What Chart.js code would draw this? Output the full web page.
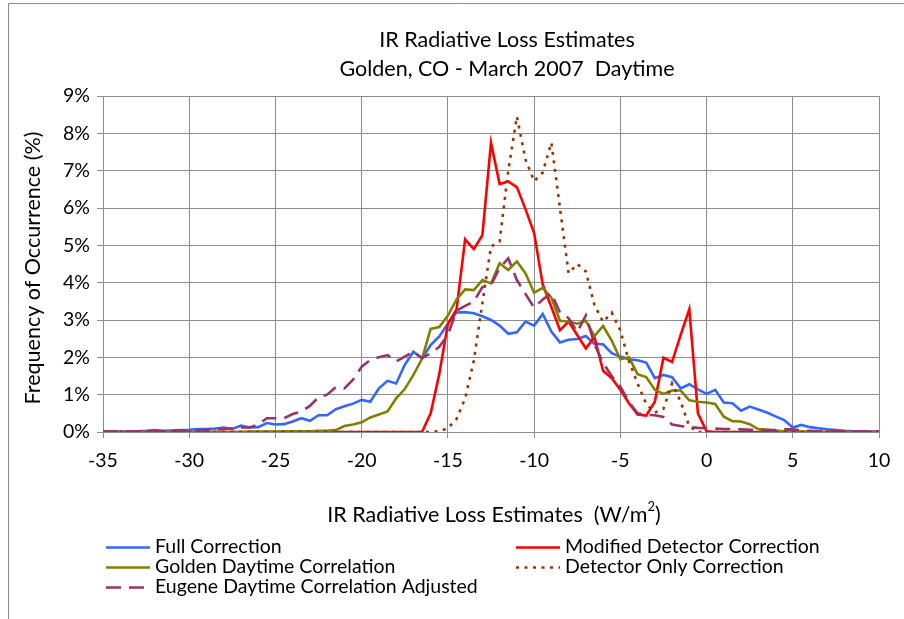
<!DOCTYPE html>
<html>
<head>
<meta charset="utf-8">
<script src="https://cdn.jsdelivr.net/npm/chart.js@4.4.1/dist/chart.umd.min.js"></script>
<style>
  html, body { margin: 0; padding: 0; background: #fff; }
</style>
</head>
<body>
<canvas id="chart" width="904" height="619"></canvas>
<script>
// x positions (W/m2), one bin every 0.5
const xValues = [
  -35, -34.5, -34, -33.5, -33, -32.5, -32, -31.5, -31, -30.5, -30,
  -29.5, -29, -28.5, -28, -27.5, -27, -26.5, -26, -25.5, -25,
  -24.5, -24, -23.5, -23, -22.5, -22, -21.5, -21, -20.5, -20,
  -19.5, -19, -18.5, -18, -17.5, -17, -16.5, -16, -15.5, -15,
  -14.5, -14, -13.5, -13, -12.5, -12, -11.5, -11, -10.5, -10,
  -9.5, -9, -8.5, -8, -7.5, -7, -6.5, -6, -5.5, -5,
  -4.5, -4, -3.5, -3, -2.5, -2, -1.5, -1, -0.5, 0,
  0.5, 1, 1.5, 2, 2.5, 3, 3.5, 4, 4.5, 5,
  5.5, 6, 6.5, 7, 7.5, 8, 8.5, 9, 9.5, 10
];

// frequency of occurrence (%)
const fullCorrection = [
  0.01, 0.01, 0.01, 0.02, 0.02, 0.03, 0.05, 0.03, 0.04, 0.05, 0.06,
  0.08, 0.08, 0.09, 0.12, 0.08, 0.17, 0.12, 0.13, 0.24, 0.2,
  0.21, 0.28, 0.37, 0.3, 0.45, 0.45, 0.61, 0.69, 0.76, 0.86,
  0.81, 1.17, 1.37, 1.3, 1.8, 2.15, 1.97, 2.33, 2.56, 2.9,
  3.2, 3.21, 3.18, 3.1, 3.0, 2.85, 2.63, 2.67, 2.96, 2.85,
  3.16, 2.69, 2.4, 2.47, 2.49, 2.57, 2.36, 2.35, 2.11, 2.02,
  1.95, 1.92, 1.86, 1.44, 1.53, 1.47, 1.17, 1.28, 1.14, 1.02,
  1.13, 0.79, 0.77, 0.57, 0.68, 0.6, 0.52, 0.42, 0.32, 0.12,
  0.19, 0.13, 0.1, 0.07, 0.05, 0.03, 0.02, 0.02, 0.01, 0.01
];

const modifiedDetector = [
  0, 0, 0, 0, 0, 0, 0, 0, 0, 0, 0,
  0, 0, 0, 0, 0, 0, 0, 0, 0, 0,
  0, 0, 0, 0, 0, 0, 0, 0, 0, 0,
  0, 0, 0, 0, 0, 0, 0, 0.5, 1.55, 2.9,
  3.28, 5.16, 4.9, 5.27, 7.75, 6.64, 6.71, 6.56, 5.97, 5.33,
  3.95, 3.35, 2.73, 2.96, 2.6, 2.24, 2.54, 1.64, 1.44, 1.13,
  0.77, 0.47, 0.44, 0.81, 1.99, 1.88, 2.6, 3.29, 0.5, 0.02,
  0, 0, 0, 0, 0, 0, 0, 0, 0, 0,
  0, 0, 0, 0, 0, 0, 0, 0, 0, 0
];

const goldenDaytime = [
  0, 0, 0, 0, 0, 0, 0, 0, 0, 0, 0,
  0, 0, 0, 0, 0, 0, 0.01, 0.01, 0.01, 0.01,
  0.02, 0.02, 0.02, 0.02, 0.03, 0.03, 0.05, 0.16, 0.2, 0.26,
  0.39, 0.47, 0.55, 0.9, 1.15, 1.53, 1.96, 2.76, 2.81, 3.12,
  3.55, 3.82, 3.8, 4.07, 3.98, 4.52, 4.34, 4.57, 4.25, 3.73,
  3.86, 3.6, 2.98, 2.96, 2.9, 2.98, 2.57, 2.84, 2.45, 1.95,
  2.0, 1.55, 1.47, 1.13, 1.02, 1.11, 1.11, 0.85, 0.81, 0.79,
  0.75, 0.41, 0.29, 0.28, 0.21, 0.08, 0.06, 0.04, 0.02, 0.02,
  0.01, 0.01, 0, 0, 0, 0, 0, 0, 0, 0
];

const detectorOnly = [
  0, 0, 0, 0, 0, 0, 0, 0, 0, 0, 0,
  0, 0, 0, 0, 0, 0, 0, 0, 0, 0,
  0, 0, 0, 0, 0, 0, 0, 0, 0, 0,
  0, 0, 0, 0, 0, 0, 0, 0, 0.02, 0.1,
  0.35, 0.9, 1.9, 3.45, 4.97, 5.1, 7.0, 8.45, 7.3, 6.72,
  6.95, 7.75, 6.0, 4.25, 4.5, 4.3, 3.4, 2.95, 3.2, 2.72,
  1.9, 1.3, 0.75, 0.52, 0.62, 1.3, 0.81, 0.15, 0, 0,
  0, 0, 0, 0, 0, 0, 0, 0, 0, 0,
  0, 0, 0, 0, 0, 0, 0, 0, 0, 0
];

const eugeneAdjusted = [
  0.01, 0.01, 0.01, 0.01, 0.02, 0.02, 0.02, 0.02, 0.03, 0.03, 0.03,
  0.04, 0.05, 0.06, 0.08, 0.1, 0.12, 0.12, 0.2, 0.37, 0.37,
  0.37, 0.48, 0.55, 0.7, 0.93, 1.0, 1.2, 1.17, 1.4, 1.75,
  1.93, 2.0, 2.06, 1.89, 2.02, 2.15, 1.98, 2.11, 2.28, 2.6,
  3.25, 3.38, 3.49, 3.88, 3.93, 4.4, 4.65, 4.07, 3.7, 3.33,
  3.55, 3.72, 3.2, 3.05, 2.68, 3.12, 2.35, 1.85, 1.5, 1.22,
  0.8, 0.5, 0.46, 0.45, 0.4, 0.2, 0.16, 0.13, 0.11, 0.1,
  0.09, 0.08, 0.08, 0.07, 0.06, 0.06, 0.05, 0.05, 0.07, 0.07,
  0.04, 0.03, 0.02, 0.02, 0.02, 0.02, 0.02, 0.02, 0.02, 0.02
];

const seriesNames = [
  "Full Correction",
  "Modified Detector Correction",
  "Golden Daytime Correlation",
  "Detector Only Correction",
  "Eugene Daytime Correlation Adjusted"
];
const titleLines = ["IR Radiative Loss Estimates", "Golden, CO - March 2007  Daytime"];
const xTitle = "IR Radiative Loss Estimates  (W/m";
const yTitle = "Frequency of Occurrence (%)";

const FONT = 'Lato, "Open Sans", sans-serif';

function pts(values) {
  return values.map((v, i) => ({ x: xValues[i], y: v }));
}

// Excel-ish legend in two columns + titles
const decorations = {
  id: "decorations",
  afterDraw(chart) {
    const ctx = chart.ctx;
    ctx.save();

    // outer chart border
    ctx.strokeStyle = "#8c8c8c";
    ctx.lineWidth = 1;
    ctx.beginPath();
    ctx.moveTo(8.5, 640);
    ctx.lineTo(8.5, 3.5);
    ctx.lineTo(904, 3.5);
    ctx.stroke();

    ctx.fillStyle = "#000";
    ctx.textAlign = "center";
    ctx.textBaseline = "middle";
    ctx.font = "21.5px " + FONT;
    ctx.fillText(titleLines[0], 507, 40);
    ctx.fillText(titleLines[1], 507, 69);

    // x axis title with superscript
    ctx.font = "21.5px " + FONT;
    const w1 = ctx.measureText(xTitle).width;
    ctx.font = "13px " + FONT;
    const w2 = ctx.measureText("2").width;
    ctx.font = "21.5px " + FONT;
    const w3 = ctx.measureText(")").width;
    let x0 = 494 - (w1 + w2 + w3) / 2;
    ctx.textAlign = "left";
    ctx.fillText(xTitle, x0, 515);
    ctx.font = "13px " + FONT;
    ctx.fillText("2", x0 + w1, 507);
    ctx.font = "21.5px " + FONT;
    ctx.fillText(")", x0 + w1 + w2, 515);

    // y axis title
    ctx.save();
    ctx.translate(33, 268);
    ctx.rotate(-Math.PI / 2);
    ctx.textAlign = "center";
    ctx.fillText(yTitle, 0, 0);
    ctx.restore();

    // legend
    const slots = [
      [106, 547], [516, 547],
      [106, 567], [516, 567],
      [106, 587]
    ];
    ctx.font = "19.5px " + FONT;
    ctx.textAlign = "left";
    chart.data.datasets.forEach((ds, i) => {
      const [lx, ly] = slots[i];
      ctx.strokeStyle = ds.borderColor;
      ctx.lineWidth = ds.borderWidth;
      ctx.setLineDash(ds.borderDash || []);
      ctx.beginPath();
      ctx.moveTo(lx, ly + 0.5);
      ctx.lineTo(lx + 44, ly + 0.5);
      ctx.stroke();
      ctx.setLineDash([]);
      ctx.fillStyle = "#000";
      ctx.fillText(ds.label, lx + 49, ly);
    });
    ctx.restore();
  }
};

new Chart(document.getElementById("chart"), {
  type: "line",
  data: {
    datasets: [
      { label: seriesNames[0], data: pts(fullCorrection), borderColor: "#3366ff", borderWidth: 2.6, order: 5 },
      { label: seriesNames[1], data: pts(modifiedDetector), borderColor: "#ff0000", borderWidth: 2.6, order: 4 },
      { label: seriesNames[2], data: pts(goldenDaytime), borderColor: "#808000", borderWidth: 2.6, order: 3 },
      { label: seriesNames[3], data: pts(detectorOnly), borderColor: "#993300", borderWidth: 2.6, borderDash: [3, 5.5], order: 2 },
      { label: seriesNames[4], data: pts(eugeneAdjusted), borderColor: "#993366", borderWidth: 2.6, borderDash: [15, 8], order: 1 }
    ]
  },
  options: {
    responsive: false,
    animation: false,
    devicePixelRatio: 1,
    layout: { padding: { left: 0, top: 96, right: 25, bottom: 0 } },
    elements: {
      point: { radius: 0 },
      line: { tension: 0, fill: false }
    },
    plugins: {
      legend: { display: false },
      tooltip: { enabled: false }
    },
    scales: {
      x: {
        type: "linear",
        min: -35,
        max: 10,
        ticks: { stepSize: 5, color: "#000", font: { family: FONT, size: 19.5 }, padding: 11 },
        grid: { color: "#8e8e8e", tickLength: 6 },
        border: { color: "#8e8e8e" },
        afterFit(scale) { scale.height = 187; }
      },
      y: {
        min: 0,
        max: 9,
        ticks: { stepSize: 1, color: "#000", font: { family: FONT, size: 19.5 }, padding: 7, callback: v => v + "%" },
        grid: { color: "#8e8e8e", tickLength: 6 },
        border: { color: "#8e8e8e" },
        afterFit(scale) { scale.width = 103; }
      }
    }
  },
  plugins: [decorations]
});
</script>
</body>
</html>
